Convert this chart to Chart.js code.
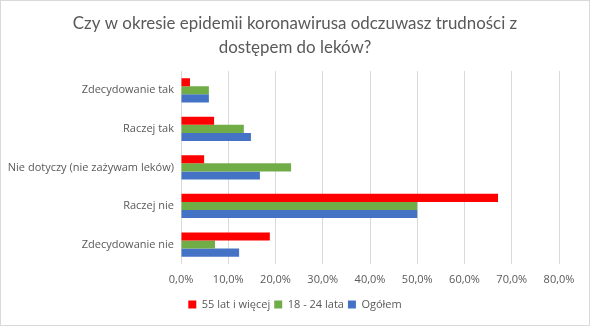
<!DOCTYPE html>
<html>
<head>
<meta charset="utf-8">
<script src="https://cdn.jsdelivr.net/npm/chart.js@4"></script>
<style>
  html, body { margin: 0; padding: 0; background: #fff; }
  #wrap { position: relative; width: 588px; height: 324px; border: 1px solid #d9d9d9; }
</style>
</head>
<body>
<div id="wrap"><canvas id="myBarChart"></canvas></div>
<script>
const categories = ['Zdecydowanie tak', 'Raczej tak', 'Nie dotyczy (nie zażywam leków)', 'Raczej nie', 'Zdecydowanie nie'];
const seriesNames = ['55 lat i więcej', '18 - 24 lata', 'Ogółem'];
const older = [1.9, 7.0, 4.9, 67.1, 18.8];
const young = [5.9, 13.3, 23.3, 50.0, 7.2];
const total = [5.9, 14.8, 16.7, 50.0, 12.3];
const tickValues = [0, 10, 20, 30, 40, 50, 60, 70, 80];

const colors = ['#FF0000', '#70AD47', '#4472C4'];
const fontFamily = "'Open Sans', 'Liberation Sans', sans-serif";

const ctx = document.getElementById('myBarChart').getContext('2d');

const barChart = new Chart(ctx, {
    type: 'bar',
    data: {
        labels: categories,
        datasets: [older, young, total].map((d, i) => ({
            label: seriesNames[i],
            data: d,
            backgroundColor: colors[i],
            borderWidth: 0,
            barPercentage: 1,
            categoryPercentage: 0.63
        }))
    },
    options: {
        indexAxis: 'y',
        responsive: true,
        maintainAspectRatio: false,
        animation: false,
        layout: {
            padding: { left: 0, right: 0, top: 4, bottom: 5 }
        },
        scales: {
            x: {
                min: 0,
                max: 80,
                afterBuildTicks: axis => {
                    axis.ticks = tickValues.map(v => ({ value: v }));
                },
                afterFit: axis => {
                    // room on the right like the original plot area
                    axis.paddingRight = 30;
                },
                ticks: {
                    callback: v => v.toFixed(1).replace('.', ',') + '%',
                    color: '#595959',
                    font: { size: 11, family: fontFamily },
                    padding: 9
                },
                grid: {
                    color: '#d9d9d9',
                    drawTicks: false
                },
                border: { display: false }
            },
            y: {
                afterFit: axis => {
                    axis.width = 180;
                },
                ticks: {
                    color: '#595959',
                    font: { size: 11, family: fontFamily },
                    padding: 7
                },
                grid: { display: false, drawTicks: false },
                border: { display: true, color: '#d9d9d9' }
            }
        },
        plugins: {
            title: {
                display: true,
                text: ['Czy w okresie epidemii koronawirusa odczuwasz trudności z', 'dostępem do leków?'],
                color: '#595959',
                font: { size: 16.9, family: "Lato, 'Open Sans', sans-serif", weight: 'normal', lineHeight: 1.45 },
                padding: { top: 6, bottom: 11 }
            },
            legend: {
                position: 'bottom',
                labels: {
                    color: '#595959',
                    font: { size: 11, family: fontFamily },
                    boxWidth: 8,
                    boxHeight: 8,
                    padding: 4
                }
            },
            tooltip: { enabled: false }
        }
    }
});
</script>
</body>
</html>
